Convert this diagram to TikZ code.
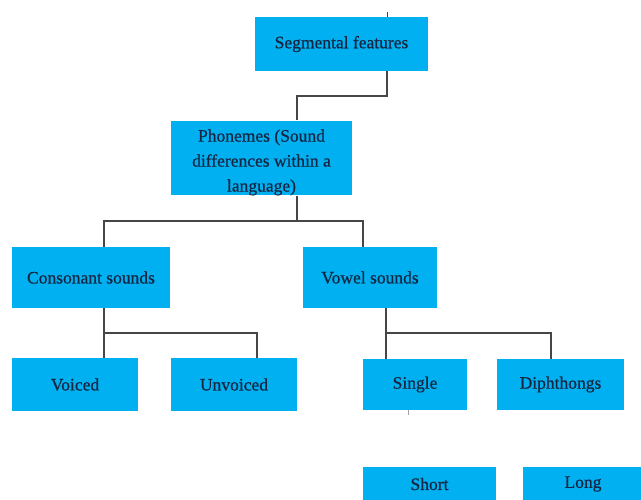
\documentclass[tikz,border=0pt]{standalone}
\usepackage{fontspec}
\setmainfont[FakeBold=0.6]{Liberation Serif}
\definecolor{boxblue}{RGB}{0,176,240}
\definecolor{txtnavy}{RGB}{22,38,66}
\definecolor{linegray}{RGB}{70,70,70}
\begin{document}
\begin{tikzpicture}[x=1pt,y=-1pt,
  box/.style={fill=boxblue, draw=none, inner sep=0pt, align=center,
    text=txtnavy, font=\fontsize{17.5}{25}\selectfont},
  conn/.style={draw=linegray, line width=1.3pt}]
\useasboundingbox (0,0) rectangle (641,499);
\clip (0,0) rectangle (641,499);
\node[box, minimum width=173pt, minimum height=54pt] (seg) at (341.5,44) {Segmental features};
\node[box, minimum width=181pt, minimum height=74pt] (pho) at (261.5,158) {\rule{0pt}{21pt}Phonemes (Sound\\differences within a\\language)};
\node[box, minimum width=158pt, minimum height=61pt] (con) at (91,277.5) {Consonant sounds};
\node[box, minimum width=134pt, minimum height=61pt] (vow) at (370,277.5) {Vowel sounds};
\node[box, minimum width=126pt, minimum height=53pt] (voi) at (75,384.5) {Voiced};
\node[box, minimum width=126pt, minimum height=53pt] (unv) at (234,384.5) {Unvoiced};
\node[box, minimum width=104pt, minimum height=51pt] (sin) at (415,384.5) {Single};
\node[box, minimum width=127pt, minimum height=51pt] (dip) at (560.5,384.5) {Diphthongs};
\node[box, minimum width=133pt, minimum height=34pt] (sho) at (429.5,484) {Short};
\node[box, minimum width=120pt, minimum height=34pt] (lon) at (583,484) {Long};
% junction points
\coordinate (a1) at (387,96);
\coordinate (a2) at (297,96);
\coordinate (b0) at (297,221);
\coordinate (b1) at (104,221);
\coordinate (b2) at (363,221);
\coordinate (c0) at (104,333);
\coordinate (c1) at (257,333);
\coordinate (d0) at (386,333);
\coordinate (d1) at (551,333);
\coordinate (t0) at (387,12);
\coordinate (t1) at (408,415);
% connectors
\draw[conn] (seg.south -| a1) -- (a1) -- (a2) -- (pho.north -| a2);
\draw[conn] (pho.south -| b0) -- (b0);
\draw[conn] (con.north -| b1) -- (b1) -- (b2) -- (vow.north -| b2);
\draw[conn] (con.south -| c0) -- (c0) -- (c1) -- (unv.north -| c1);
\draw[conn] (c0) -- (voi.north -| c0);
\draw[conn] (vow.south -| d0) -- (d0) -- (d1) -- (dip.north -| d1);
\draw[conn] (d0) -- (sin.north -| d0);
\draw[draw=linegray, line width=0.8pt] (t0) -- (seg.north -| t0);
\draw[draw=linegray!50, line width=0.8pt] (sin.south -| t1) -- (t1);
\end{tikzpicture}
\end{document}
